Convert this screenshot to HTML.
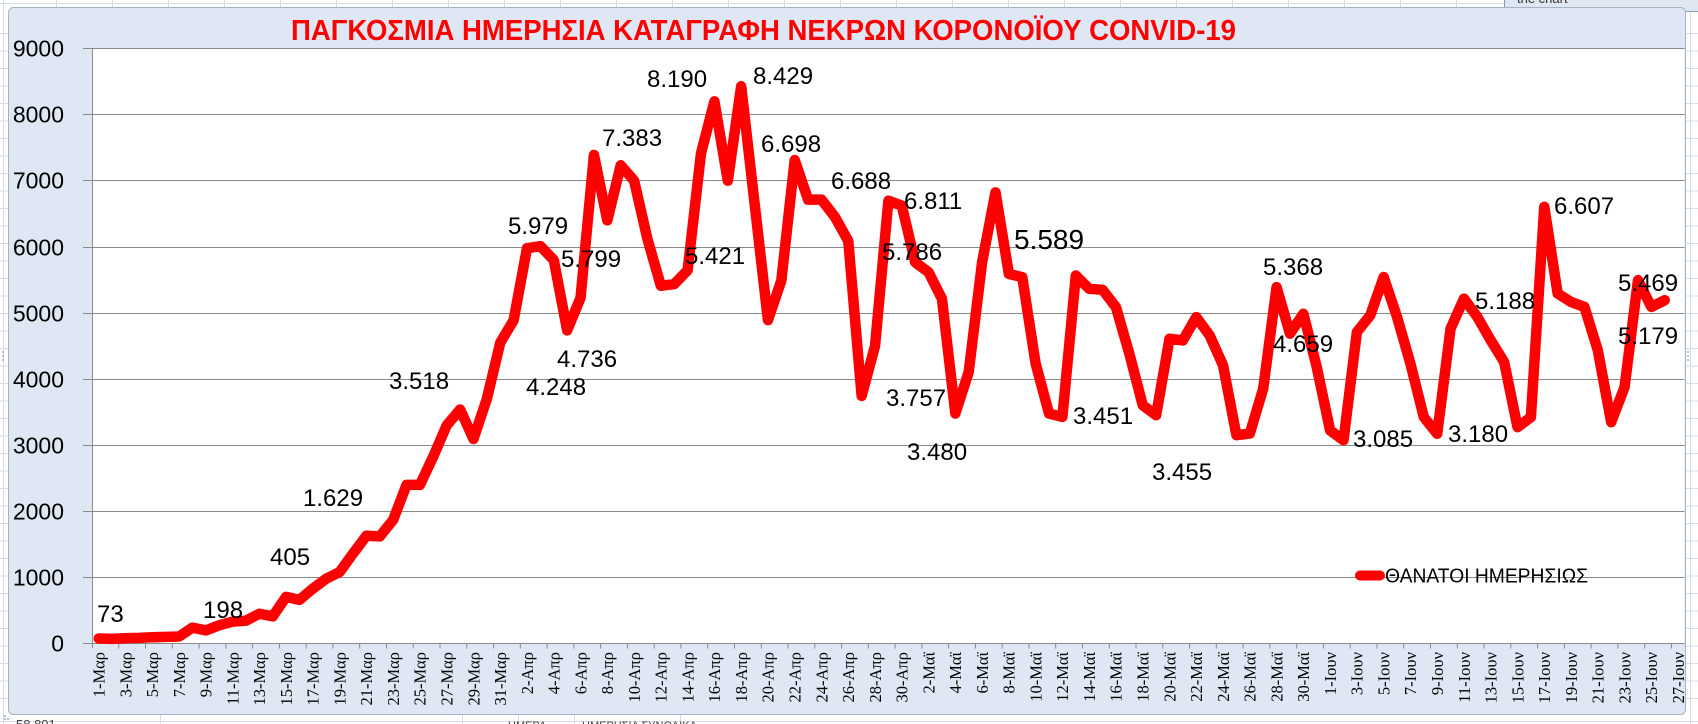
<!DOCTYPE html>
<html>
<head>
<meta charset="utf-8">
<style>
html,body{margin:0;padding:0;background:#fff;}
body{width:1698px;height:724px;overflow:hidden;}
svg{display:block;}
.yl{font-family:"Liberation Sans",sans-serif;font-size:23px;fill:#000;}
.xl{font-family:"Liberation Serif",serif;font-size:16.5px;fill:#000;}
.dl{font-family:"Liberation Sans",sans-serif;font-size:24px;fill:#000;}
</style>
</head>
<body>
<svg width="1698" height="724" viewBox="0 0 1698 724" xmlns="http://www.w3.org/2000/svg">
  <!-- spreadsheet background -->
  <rect x="0" y="0" width="1698" height="724" fill="#ffffff"/>
  <g stroke="#d6dde8" stroke-width="1">
    <line x1="0" y1="3.5" x2="1698" y2="3.5"/>
    <line x1="0" y1="721.5" x2="1698" y2="721.5"/>
    <line x1="3.5" y1="0" x2="3.5" y2="724"/>
    <line x1="1690.5" y1="0" x2="1690.5" y2="724"/>
    <path d="M0 33.5H8M0 51H8M0 68.5H8M0 86H8M0 103.5H8M0 121H8M0 138.5H8M0 156H8M0 173.5H8M0 191H8M0 208.5H8M0 226H8M0 243.5H8M0 261H8M0 278.5H8M0 296H8M0 313.5H8M0 331H8M0 348.5H8M0 366H8M0 383.5H8M0 401H8M0 418.5H8M0 436H8M0 453.5H8M0 471H8M0 488.5H8M0 506H8M0 523.5H8M0 541H8M0 558.5H8M0 576H8M0 593.5H8M0 611H8M0 628.5H8M0 646H8M0 663.5H8M0 681H8M0 698.5H8"/>
    <path d="M1686 33.5H1698M1686 51H1698M1686 68.5H1698M1686 86H1698M1686 103.5H1698M1686 121H1698M1686 138.5H1698M1686 156H1698M1686 173.5H1698M1686 191H1698M1686 208.5H1698M1686 226H1698M1686 243.5H1698M1686 261H1698M1686 278.5H1698M1686 296H1698M1686 313.5H1698M1686 331H1698M1686 348.5H1698M1686 366H1698M1686 383.5H1698M1686 401H1698M1686 418.5H1698M1686 436H1698M1686 453.5H1698M1686 471H1698M1686 488.5H1698M1686 506H1698M1686 523.5H1698M1686 541H1698M1686 558.5H1698M1686 576H1698M1686 593.5H1698M1686 611H1698M1686 628.5H1698M1686 646H1698M1686 663.5H1698M1686 681H1698M1686 698.5H1698"/>
    <path d="M56.5 0V8M112.5 0V8M168.5 0V8M224.5 0V8M280.5 0V8M336.5 0V8M392.5 0V8M448.5 0V8M504.5 0V8M560.5 0V8M616.5 0V8M672.5 0V8M728.5 0V8M784.5 0V8M840.5 0V8M896.5 0V8M952.5 0V8M1008.5 0V8M1064.5 0V8M1120.5 0V8M1176.5 0V8M1232.5 0V8M1288.5 0V8M1344.5 0V8M1400.5 0V8M1456.5 0V8"/>
    <path d="M160.5 714V724M462.5 714V724M518.5 714V724M574.5 714V724M680.5 714V724"/>
  </g>
  <text x="16" y="729" font-family="Liberation Sans,sans-serif" font-size="13" fill="#444">58.801</text>
  <text x="508" y="729" font-family="Liberation Sans,sans-serif" font-size="11" fill="#444">ΗΜΕΡΑ</text>
  <text x="582" y="729" font-family="Liberation Sans,sans-serif" font-size="11" fill="#444">ΗΜΕΡΗΣΙΑ ΣΥΝΟΛΙΚΑ</text>

  <!-- tooltip top right -->
  <rect x="1504.5" y="-3" width="200" height="14.5" rx="2" fill="#dfe7f2" stroke="#8d9bb0"/>
  <text x="1517" y="3" font-family="Liberation Sans,sans-serif" font-size="13" fill="#333">the chart</text>

  <!-- chart area -->
  <rect x="8.5" y="7.5" width="1677" height="707" rx="5" fill="#dee7f3" stroke="#a6b3c4" stroke-width="1"/>

  <!-- plot area -->
  <rect x="92" y="48.5" width="1592.5" height="595" fill="#ffffff"/>

  <!-- gridlines -->
  <g stroke="#8a8a8a" stroke-width="1">
    <line x1="83" y1="48.5" x2="1684.5" y2="48.5"/>
    <line x1="83" y1="114.5" x2="1684.5" y2="114.5"/>
    <line x1="83" y1="180.5" x2="1684.5" y2="180.5"/>
    <line x1="83" y1="247.5" x2="1684.5" y2="247.5"/>
    <line x1="83" y1="313.5" x2="1684.5" y2="313.5"/>
    <line x1="83" y1="379.5" x2="1684.5" y2="379.5"/>
    <line x1="83" y1="445.5" x2="1684.5" y2="445.5"/>
    <line x1="83" y1="511.5" x2="1684.5" y2="511.5"/>
    <line x1="83" y1="577.5" x2="1684.5" y2="577.5"/>
    <line x1="83" y1="643.5" x2="1684.5" y2="643.5"/>
    <line x1="92.5" y1="48.5" x2="92.5" y2="648"/>
    <path d="M118.8 643.5v5M145.5 643.5v5M172.3 643.5v5M199.1 643.5v5M225.9 643.5v5M252.6 643.5v5M279.4 643.5v5M306.2 643.5v5M332.9 643.5v5M359.7 643.5v5M386.5 643.5v5M413.2 643.5v5M440 643.5v5M466.8 643.5v5M493.6 643.5v5M520.3 643.5v5M547.1 643.5v5M573.9 643.5v5M600.6 643.5v5M627.4 643.5v5M654.2 643.5v5M680.9 643.5v5M707.7 643.5v5M734.5 643.5v5M761.3 643.5v5M788 643.5v5M814.8 643.5v5M841.6 643.5v5M868.3 643.5v5M895.1 643.5v5M921.9 643.5v5M948.6 643.5v5M975.4 643.5v5M1002.2 643.5v5M1029 643.5v5M1055.7 643.5v5M1082.5 643.5v5M1109.3 643.5v5M1136 643.5v5M1162.8 643.5v5M1189.6 643.5v5M1216.3 643.5v5M1243.1 643.5v5M1269.9 643.5v5M1296.7 643.5v5M1323.4 643.5v5M1350.2 643.5v5M1377 643.5v5M1403.7 643.5v5M1430.5 643.5v5M1457.3 643.5v5M1484 643.5v5M1510.8 643.5v5M1537.6 643.5v5M1564.4 643.5v5M1591.1 643.5v5M1617.9 643.5v5M1644.7 643.5v5M1671.4 643.5v5"/>
  </g>

  <!-- y labels -->
  <g class="yl" text-anchor="end">
    <text x="64" y="56.5">9000</text>
    <text x="64" y="122.5">8000</text>
    <text x="64" y="188.5">7000</text>
    <text x="64" y="255.5">6000</text>
    <text x="64" y="321.5">5000</text>
    <text x="64" y="387.5">4000</text>
    <text x="64" y="453.5">3000</text>
    <text x="64" y="519.5">2000</text>
    <text x="64" y="585.5">1000</text>
    <text x="64" y="651.5">0</text>
  </g>

  <!-- x labels -->
  <g class="xl" text-anchor="end">
    <text transform="translate(98.7,652) rotate(-90)" dy="0.35em">1-Μαρ</text>
    <text transform="translate(125.5,652) rotate(-90)" dy="0.35em">3-Μαρ</text>
    <text transform="translate(152.2,652) rotate(-90)" dy="0.35em">5-Μαρ</text>
    <text transform="translate(179,652) rotate(-90)" dy="0.35em">7-Μαρ</text>
    <text transform="translate(205.8,652) rotate(-90)" dy="0.35em">9-Μαρ</text>
    <text transform="translate(232.5,652) rotate(-90)" dy="0.35em">11-Μαρ</text>
    <text transform="translate(259.3,652) rotate(-90)" dy="0.35em">13-Μαρ</text>
    <text transform="translate(286.1,652) rotate(-90)" dy="0.35em">15-Μαρ</text>
    <text transform="translate(312.9,652) rotate(-90)" dy="0.35em">17-Μαρ</text>
    <text transform="translate(339.6,652) rotate(-90)" dy="0.35em">19-Μαρ</text>
    <text transform="translate(366.4,652) rotate(-90)" dy="0.35em">21-Μαρ</text>
    <text transform="translate(393.2,652) rotate(-90)" dy="0.35em">23-Μαρ</text>
    <text transform="translate(419.9,652) rotate(-90)" dy="0.35em">25-Μαρ</text>
    <text transform="translate(446.7,652) rotate(-90)" dy="0.35em">27-Μαρ</text>
    <text transform="translate(473.5,652) rotate(-90)" dy="0.35em">29-Μαρ</text>
    <text transform="translate(500.2,652) rotate(-90)" dy="0.35em">31-Μαρ</text>
    <text transform="translate(527,652) rotate(-90)" dy="0.35em">2-Απρ</text>
    <text transform="translate(553.8,652) rotate(-90)" dy="0.35em">4-Απρ</text>
    <text transform="translate(580.6,652) rotate(-90)" dy="0.35em">6-Απρ</text>
    <text transform="translate(607.3,652) rotate(-90)" dy="0.35em">8-Απρ</text>
    <text transform="translate(634.1,652) rotate(-90)" dy="0.35em">10-Απρ</text>
    <text transform="translate(660.9,652) rotate(-90)" dy="0.35em">12-Απρ</text>
    <text transform="translate(687.6,652) rotate(-90)" dy="0.35em">14-Απρ</text>
    <text transform="translate(714.4,652) rotate(-90)" dy="0.35em">16-Απρ</text>
    <text transform="translate(741.2,652) rotate(-90)" dy="0.35em">18-Απρ</text>
    <text transform="translate(767.9,652) rotate(-90)" dy="0.35em">20-Απρ</text>
    <text transform="translate(794.7,652) rotate(-90)" dy="0.35em">22-Απρ</text>
    <text transform="translate(821.5,652) rotate(-90)" dy="0.35em">24-Απρ</text>
    <text transform="translate(848.3,652) rotate(-90)" dy="0.35em">26-Απρ</text>
    <text transform="translate(875,652) rotate(-90)" dy="0.35em">28-Απρ</text>
    <text transform="translate(901.8,652) rotate(-90)" dy="0.35em">30-Απρ</text>
    <text transform="translate(928.6,652) rotate(-90)" dy="0.35em">2-Μαϊ</text>
    <text transform="translate(955.3,652) rotate(-90)" dy="0.35em">4-Μαϊ</text>
    <text transform="translate(982.1,652) rotate(-90)" dy="0.35em">6-Μαϊ</text>
    <text transform="translate(1008.9,652) rotate(-90)" dy="0.35em">8-Μαϊ</text>
    <text transform="translate(1035.6,652) rotate(-90)" dy="0.35em">10-Μαϊ</text>
    <text transform="translate(1062.4,652) rotate(-90)" dy="0.35em">12-Μαϊ</text>
    <text transform="translate(1089.2,652) rotate(-90)" dy="0.35em">14-Μαϊ</text>
    <text transform="translate(1115.9,652) rotate(-90)" dy="0.35em">16-Μαϊ</text>
    <text transform="translate(1142.7,652) rotate(-90)" dy="0.35em">18-Μαϊ</text>
    <text transform="translate(1169.5,652) rotate(-90)" dy="0.35em">20-Μαϊ</text>
    <text transform="translate(1196.3,652) rotate(-90)" dy="0.35em">22-Μαϊ</text>
    <text transform="translate(1223,652) rotate(-90)" dy="0.35em">24-Μαϊ</text>
    <text transform="translate(1249.8,652) rotate(-90)" dy="0.35em">26-Μαϊ</text>
    <text transform="translate(1276.6,652) rotate(-90)" dy="0.35em">28-Μαϊ</text>
    <text transform="translate(1303.3,652) rotate(-90)" dy="0.35em">30-Μαϊ</text>
    <text transform="translate(1330.1,652) rotate(-90)" dy="0.35em">1-Ιουν</text>
    <text transform="translate(1356.9,652) rotate(-90)" dy="0.35em">3-Ιουν</text>
    <text transform="translate(1383.6,652) rotate(-90)" dy="0.35em">5-Ιουν</text>
    <text transform="translate(1410.4,652) rotate(-90)" dy="0.35em">7-Ιουν</text>
    <text transform="translate(1437.2,652) rotate(-90)" dy="0.35em">9-Ιουν</text>
    <text transform="translate(1464,652) rotate(-90)" dy="0.35em">11-Ιουν</text>
    <text transform="translate(1490.7,652) rotate(-90)" dy="0.35em">13-Ιουν</text>
    <text transform="translate(1517.5,652) rotate(-90)" dy="0.35em">15-Ιουν</text>
    <text transform="translate(1544.3,652) rotate(-90)" dy="0.35em">17-Ιουν</text>
    <text transform="translate(1571,652) rotate(-90)" dy="0.35em">19-Ιουν</text>
    <text transform="translate(1597.8,652) rotate(-90)" dy="0.35em">21-Ιουν</text>
    <text transform="translate(1624.6,652) rotate(-90)" dy="0.35em">23-Ιουν</text>
    <text transform="translate(1651.3,652) rotate(-90)" dy="0.35em">25-Ιουν</text>
    <text transform="translate(1678.1,652) rotate(-90)" dy="0.35em">27-Ιουν</text>
  </g>

  <!-- series line -->
  <g transform="translate(92,643.5) scale(13.385,-0.066111)">
    <polyline fill="none" stroke="#ff0000" stroke-width="10.5" stroke-linejoin="round" stroke-linecap="round" vector-effect="non-scaling-stroke"
      points="0.5,75 1.5,70 2.5,80 3.5,85 4.5,95 5.5,100 6.5,105 7.5,240 8.5,198 9.5,275 10.5,330 11.5,345 12.5,450 13.5,410 14.5,705 15.5,660 16.5,830 17.5,980 18.5,1080 19.5,1360 20.5,1629 21.5,1620 22.5,1870 23.5,2400 24.5,2400 25.5,2830 26.5,3300 27.5,3540 28.5,3094 29.5,3700 30.5,4550 31.5,4890 32.5,5980 33.5,6010 34.5,5800 35.5,4736 36.5,5230 37.5,7390 38.5,6400 39.5,7234 40.5,7000 41.5,6115 42.5,5411 43.5,5437 44.5,5646 45.5,7417 46.5,8200 47.5,7000 48.5,8429 49.5,6660 50.5,4891 51.5,5490 52.5,7312 53.5,6714 54.5,6714 55.5,6453 56.5,6089 57.5,3745 58.5,4500 59.5,6698 60.5,6623 61.5,5767 62.5,5616 63.5,5214 64.5,3478 65.5,4107 66.5,5767 67.5,6824 68.5,5591 69.5,5541 70.5,4233 71.5,3478 72.5,3428 73.5,5566 74.5,5365 75.5,5350 76.5,5088 77.5,4384 78.5,3604 79.5,3453 80.5,4610 81.5,4585 82.5,4937 83.5,4660 84.5,4208 85.5,3151 86.5,3176 87.5,3855 88.5,5390 89.5,4686 90.5,4987 91.5,4182 92.5,3224 93.5,3074 94.5,4711 95.5,4963 96.5,5543 97.5,4939 98.5,4232 99.5,3424 100.5,3172 101.5,4763 102.5,5217 103.5,4939 104.5,4586 105.5,4258 106.5,3273 107.5,3424 108.5,6606 109.5,5293 110.5,5167 111.5,5091 112.5,4434 113.5,3348 114.5,3879 115.5,5495 116.5,5091 117.5,5192"/>
  </g>

  <!-- data labels -->
  <g class="dl">
    <text x="97" y="622">73</text>
    <text x="203" y="618">198</text>
    <text x="270" y="565">405</text>
    <text x="303" y="506">1.629</text>
    <text x="389" y="389">3.518</text>
    <text x="508" y="234">5.979</text>
    <text x="561" y="267">5.799</text>
    <text x="557" y="367">4.736</text>
    <text x="526" y="395">4.248</text>
    <text x="602" y="146">7.383</text>
    <text x="647" y="87">8.190</text>
    <text x="753" y="84">8.429</text>
    <text x="685" y="264">5.421</text>
    <text x="761" y="152">6.698</text>
    <text x="831" y="189">6.688</text>
    <text x="904" y="209">6.811</text>
    <text x="882" y="260">5.786</text>
    <text x="1014" y="249" font-size="28">5.589</text>
    <text x="886" y="406">3.757</text>
    <text x="907" y="460">3.480</text>
    <text x="1073" y="424">3.451</text>
    <text x="1152" y="480">3.455</text>
    <text x="1263" y="275">5.368</text>
    <text x="1273" y="352">4.659</text>
    <text x="1353" y="447">3.085</text>
    <text x="1448" y="442">3.180</text>
    <text x="1475" y="309">5.188</text>
    <text x="1554" y="214">6.607</text>
    <text x="1618" y="291">5.469</text>
    <text x="1618" y="344">5.179</text>
  </g>

  <!-- legend -->
  <line x1="1360" y1="575.5" x2="1380" y2="575.5" stroke="#ff0000" stroke-width="10" stroke-linecap="round"/>
  <text x="1385" y="582.5" font-family="Liberation Sans,sans-serif" font-size="20" fill="#000" textLength="203" lengthAdjust="spacingAndGlyphs">ΘΑΝΑΤΟΙ ΗΜΕΡΗΣΙΩΣ</text>

  <!-- title -->
  <text x="291" y="40" font-family="Liberation Sans,sans-serif" font-weight="bold" font-size="29" fill="#ff0000" textLength="945" lengthAdjust="spacingAndGlyphs">ΠΑΓΚΟΣΜΙΑ ΗΜΕΡΗΣΙΑ ΚΑΤΑΓΡΑΦΗ ΝΕΚΡΩΝ ΚΟΡΟΝΟΪΟΥ CONVID-19</text>

  <!-- resize handles -->
  <g fill="#8a96a8">
    <circle cx="3" cy="352" r="0.9"/><circle cx="3" cy="356" r="0.9"/><circle cx="3" cy="360" r="0.9"/>
    <circle cx="1688" cy="352" r="0.9"/><circle cx="1688" cy="356" r="0.9"/><circle cx="1688" cy="360" r="0.9"/>
    <circle cx="5" cy="716" r="0.9"/><circle cx="8" cy="719" r="0.9"/><circle cx="5" cy="719" r="0.9"/>
  </g>
</svg>
</body>
</html>
